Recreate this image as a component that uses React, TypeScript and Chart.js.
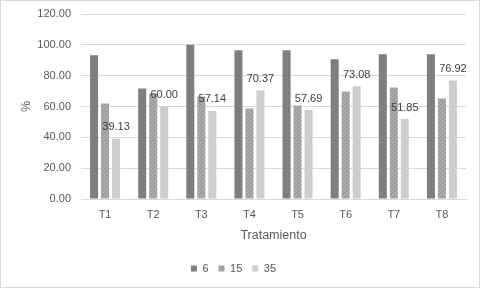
import React, { useEffect, useRef } from "react";
import { Chart, registerables } from "chart.js";

Chart.register(...registerables);

const categories = ["T1", "T2", "T3", "T4", "T5", "T6", "T7", "T8"];
const seriesNames = ["6", "15", "35"];
const series6 = [93.3, 71.7, 100.0, 96.5, 96.5, 90.6, 93.9, 93.9];
const series15 = [62.0, 68.5, 66.5, 58.7, 60.7, 69.8, 72.4, 65.2];
const series35 = [39.13, 60.0, 57.14, 70.37, 57.69, 73.08, 51.85, 76.92];
const yMin = 0;
const yMax = 120;
const yStep = 20;
const xTitle = "Tratamiento";
const yTitle = "%";

const FONT = "'Liberation Sans', Arial, sans-serif";

function makePattern(base: string, dot: string, dots: number[][], size: number) {
  const c = document.createElement("canvas");
  c.width = size;
  c.height = size;
  const g = c.getContext("2d")!;
  g.fillStyle = base;
  g.fillRect(0, 0, size, size);
  g.fillStyle = dot;
  dots.forEach(([x, y]) => g.fillRect(x, y, 1, 1));
  return g.createPattern(c, "repeat") as CanvasPattern;
}

const labelPlugin = {
  id: "valueLabels",
  afterDatasetsDraw(chart: any) {
    const ctx = chart.ctx;
    const meta = chart.getDatasetMeta(2);
    ctx.save();
    ctx.font = `11px ${FONT}`;
    ctx.fillStyle = "#404040";
    ctx.textAlign = "center";
    ctx.textBaseline = "middle";
    meta.data.forEach((el: any, i: number) => {
      ctx.fillText(series35[i].toFixed(2), el.x, el.y - 11.5);
    });
    ctx.restore();
  },
};

export default function App() {
  const ref = useRef<HTMLCanvasElement>(null);
  useEffect(() => {
    if (!ref.current) return;
    const p6 = makePattern("#808080", "#777777", [[0, 0], [2, 2]], 4);
    const p15 = makePattern(
      "#aaaaaa",
      "#939393",
      [[0, 0], [2, 1], [1, 2], [3, 3]],
      4
    );
    const p35 = makePattern("#cfcfcf", "#c0c0c0", [[0, 0], [2, 2]], 4);
    const chart = new Chart(ref.current, {
      type: "bar",
      data: {
        labels: categories,
        datasets: [
          { label: seriesNames[0], data: series6, backgroundColor: p6, borderWidth: 0 },
          { label: seriesNames[1], data: series15, backgroundColor: p15, borderWidth: 0 },
          { label: seriesNames[2], data: series35, backgroundColor: p35, borderWidth: 0 },
        ],
      },
      options: {
        animation: false,
        responsive: true,
        maintainAspectRatio: false,
        datasets: { bar: { categoryPercentage: 0.686, barPercentage: 0.73 } },
        layout: { padding: { top: 13, right: 13, left: 0, bottom: 3 } },
        plugins: {
          tooltip: { enabled: false },
          legend: {
            position: "bottom",
            labels: {
              font: { family: FONT, size: 11 },
              color: "#595959",
              boxWidth: 6,
              boxHeight: 6,
              padding: 10,
            },
          },
        },
        scales: {
          x: {
            grid: { display: false, drawTicks: false },
            border: { display: true, color: "#d9d9d9" },
            ticks: { font: { family: FONT, size: 11 }, color: "#595959", padding: 9 },
            title: {
              display: true,
              text: xTitle,
              font: { family: FONT, size: 12.5 },
              color: "#595959",
              padding: { top: 0, bottom: 10 },
            },
            afterFit(scale: any) {
              scale.height = 54;
            },
          },
          y: {
            min: yMin,
            max: yMax,
            ticks: {
              stepSize: yStep,
              font: { family: FONT, size: 11 },
              color: "#595959",
              padding: 0,
              callback: (v: any) => Number(v).toFixed(2),
            },
            grid: {
              color: "#d9d9d9",
              drawTicks: true,
              tickLength: 10,
              tickColor: "rgba(0,0,0,0)",
            },
            border: { display: false },
            title: {
              display: true,
              text: yTitle,
              font: { family: FONT, size: 12.5 },
              color: "#595959",
              padding: { top: 18.5, bottom: 0 },
            },
            afterFit(scale: any) {
              scale.width = 80;
            },
          },
        },
      },
      plugins: [labelPlugin],
    });
    return () => chart.destroy();
  }, []);
  return (
    <div
      style={{
        position: "fixed",
        left: 0,
        top: 0,
        width: 480,
        height: 288,
        border: "1px solid #d9d9d9",
        boxSizing: "border-box",
        background: "#fff",
      }}
    >
      <div style={{ position: "relative", width: 478, height: 286 }}>
        <canvas ref={ref} />
      </div>
    </div>
  );
}
